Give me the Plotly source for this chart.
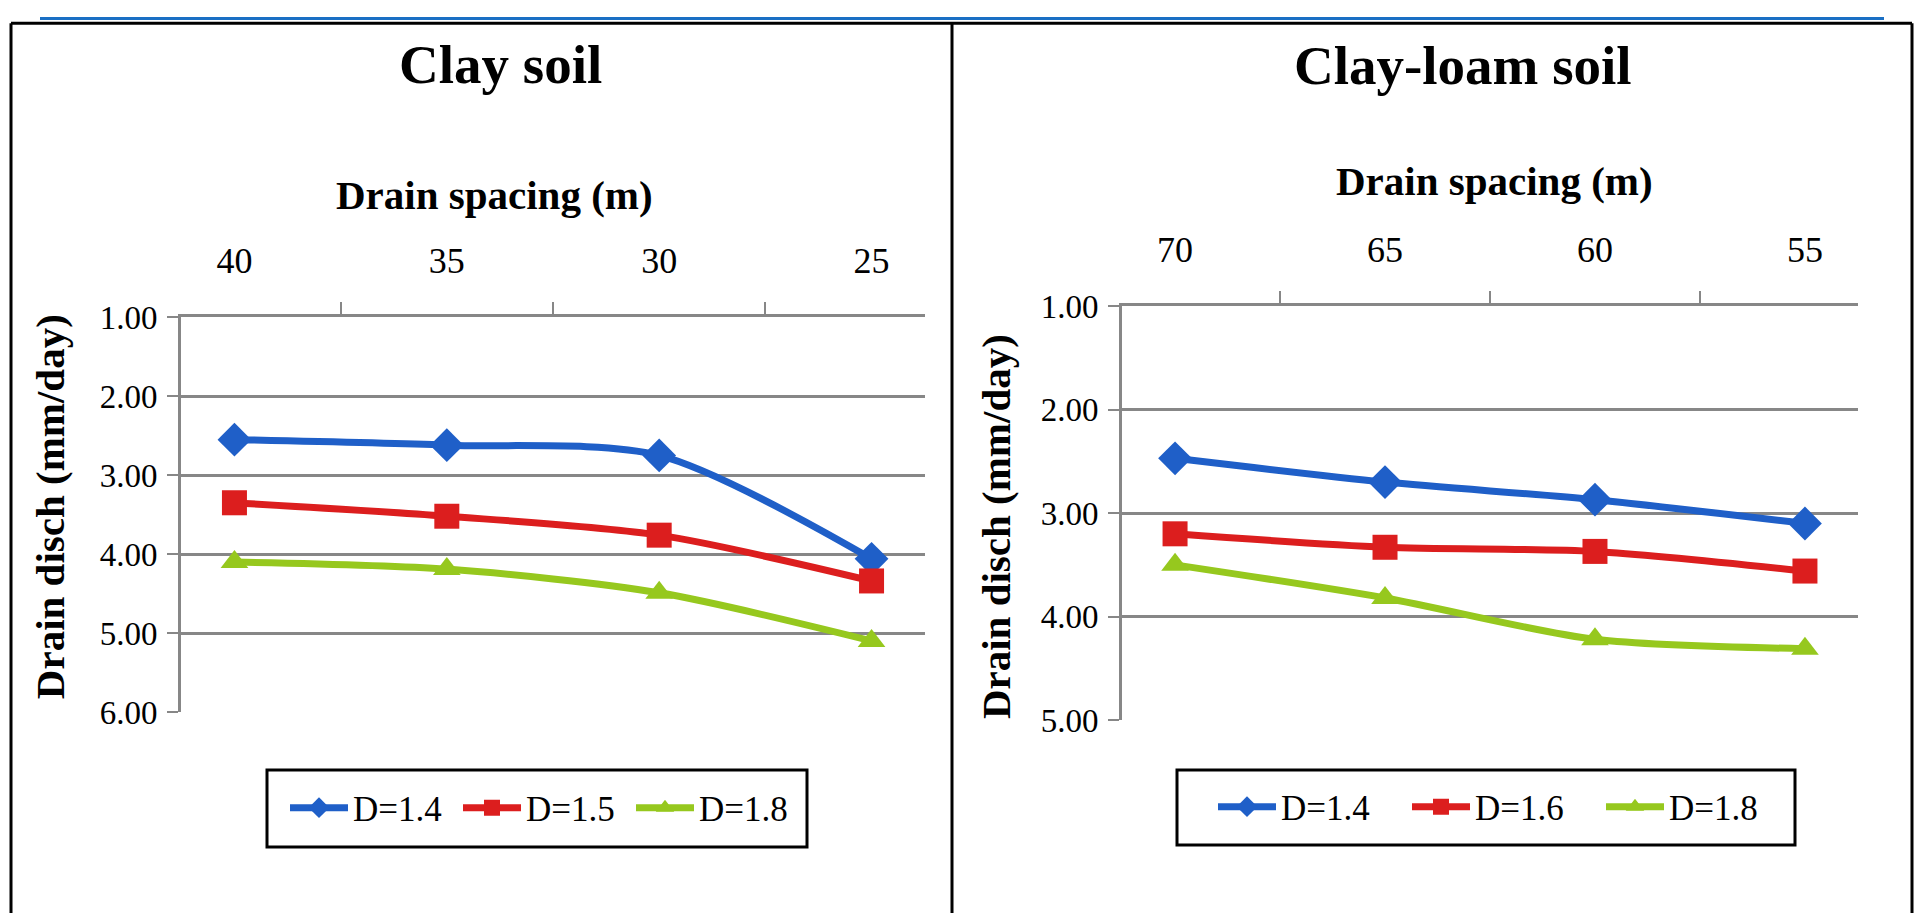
import plotly.graph_objects as go

# ---- data ----
clay_spacing = ["40", "35", "30", "25"]
clay_d14 = [2.55, 2.62, 2.75, 4.06]
clay_d15 = [3.35, 3.52, 3.76, 4.34]
clay_d18 = [4.10, 4.19, 4.49, 5.10]
clay_names = ["D=1.4", "D=1.5", "D=1.8"]

loam_spacing = ["70", "65", "60", "55"]
loam_d14 = [2.47, 2.70, 2.87, 3.10]
loam_d16 = [3.20, 3.33, 3.37, 3.56]
loam_d18 = [3.50, 3.82, 4.22, 4.31]
loam_names = ["D=1.4", "D=1.6", "D=1.8"]

y_ticks_clay = [1, 2, 3, 4, 5, 6]
y_ticks_loam = [1, 2, 3, 4, 5]

# ---- styling ----
W, FH = 1917, 932
# the rendered page shows the figure offset and slightly compressed vertically;
# positions below are targets in the final picture and are mapped back here.
K, OFF = 0.962, 17.2
colors = ["#1f5fc8", "#dc1e1e", "#96c81e"]
symbols = ["diamond", "square", "triangle-up"]
msizes = [26, 25, 24]
FONT = "Liberation Serif"
grid = "#878787"


def px(x):
    return x / W


def dy(t):
    return max(0.0, t / K - OFF)


def py(t):
    return 1 - dy(t) / FH


def pyd(d):
    return 1 - d / FH


fig = go.Figure()

for vals, name, c, s, ms in zip([clay_d14, clay_d15, clay_d18], clay_names, colors, symbols, msizes):
    fig.add_trace(go.Scatter(
        x=clay_spacing, y=vals, name=name, mode="lines+markers",
        line=dict(color=c, width=7, shape="spline", smoothing=0.8),
        marker=dict(symbol=s, size=ms, color=c),
        xaxis="x", yaxis="y", legend="legend"))

for vals, name, c, s, ms in zip([loam_d14, loam_d16, loam_d18], loam_names, colors, symbols, msizes):
    fig.add_trace(go.Scatter(
        x=loam_spacing, y=vals, name=name, mode="lines+markers",
        line=dict(color=c, width=7, shape="spline", smoothing=0.8),
        marker=dict(symbol=s, size=ms, color=c),
        xaxis="x2", yaxis="y2", legend="legend2"))

xcommon = dict(type="category", side="top", showline=True, linecolor=grid, linewidth=3,
               ticks="outside", tickson="boundaries", ticklen=12, tickcolor=grid, tickwidth=2,
               showgrid=False, tickfont=dict(family=FONT, size=36, color="black"),
               ticklabelstandoff=27, fixedrange=True)
ycommon = dict(autorange=False, showline=True, linecolor=grid, linewidth=3,
               showgrid=True, gridcolor=grid, gridwidth=3, zeroline=False,
               ticks="outside", ticklen=11, tickcolor=grid, tickwidth=2,
               tickformat=".2f", tickfont=dict(family=FONT, size=33, color="black"),
               ticklabelstandoff=3, fixedrange=True)

legcommon = dict(orientation="h", yanchor="middle", xanchor="left",
                 bgcolor="rgba(0,0,0,0)", borderwidth=0, itemwidth=58,
                 font=dict(family=FONT, size=35, color="black"), itemsizing="trace")

fig.update_layout(
    width=W, height=FH,
    margin=dict(l=0, r=0, t=0, b=0),
    paper_bgcolor="white", plot_bgcolor="white",
    font=dict(family=FONT, color="black"),
    xaxis=dict(domain=[px(181), px(925)], anchor="y", categoryorder="array",
               categoryarray=clay_spacing, **xcommon),
    yaxis=dict(domain=[py(712), py(317)], anchor="x", range=[6, 1],
               tickvals=y_ticks_clay, **ycommon),
    xaxis2=dict(domain=[px(1122), px(1858)], anchor="y2", categoryorder="array",
                categoryarray=loam_spacing, **xcommon),
    yaxis2=dict(domain=[py(720), py(306)], anchor="x2", range=[5, 1],
                tickvals=y_ticks_loam, **ycommon),
    legend=dict(x=px(285), y=py(808), entrywidth=100, **legcommon),
    legend2=dict(x=px(1213), y=py(807), entrywidth=121, **legcommon),
    showlegend=True,
)

annots = [
    dict(text="<b>Clay soil</b>", x=500, y=64, size=55, angle=0),
    dict(text="<b>Clay-loam soil</b>", x=1463, y=65, size=55, angle=0),
    dict(text="<b>Drain spacing (m)</b>", x=494, y=195, size=41, angle=0),
    dict(text="<b>Drain spacing (m)</b>", x=1494, y=181, size=41, angle=0),
    dict(text="<b>Drain disch (mm/day)</b>", x=50, y=507, size=41, angle=-90),
    dict(text="<b>Drain disch (mm/day)</b>", x=996, y=526, size=41, angle=-90),
]
for a in annots:
    fig.add_annotation(text=a["text"], x=px(a["x"]), y=py(a["y"]), xref="paper", yref="paper",
                       xanchor="center", yanchor="middle", showarrow=False,
                       textangle=a["angle"], font=dict(family=FONT, size=a["size"], color="black"))

# frame and top rule (design coordinates at the very top of the figure)
TOPRULE, TOPFRAME = 1.5, 6.5
lines = [
    dict(x0=40, x1=1884, y0=TOPRULE, y1=TOPRULE, color="#1a6fc4", width=3),
    dict(x0=11, x1=1912, y0=TOPFRAME, y1=TOPFRAME, color="black", width=3),
    dict(x0=11, x1=11, y0=TOPFRAME, y1=FH, color="black", width=3),
    dict(x0=952, x1=952, y0=TOPFRAME, y1=FH, color="black", width=3),
    dict(x0=1912, x1=1912, y0=TOPFRAME, y1=FH, color="black", width=3),
]
for s in lines:
    fig.add_shape(type="line", xref="paper", yref="paper", x0=px(s["x0"]), x1=px(s["x1"]),
                  y0=pyd(s["y0"]), y1=pyd(s["y1"]), line=dict(color=s["color"], width=s["width"]))

# legend frames
boxes = [(267, 770, 807, 847), (1177, 770, 1795, 845)]
for x0, y0, x1, y1 in boxes:
    fig.add_shape(type="rect", xref="paper", yref="paper", x0=px(x0), x1=px(x1),
                  y0=py(y1), y1=py(y0), line=dict(color="black", width=3), layer="below")

fig.write_html("out.html")
